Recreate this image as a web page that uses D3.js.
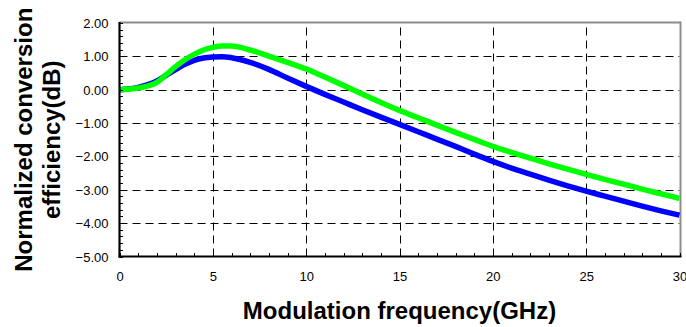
<!DOCTYPE html>
<html>
<head>
<meta charset="utf-8">
<script src="https://cdn.jsdelivr.net/npm/d3@7"></script>
<style>
html,body{margin:0;padding:0;background:#fff;}
svg{display:block;}
text{font-family:"Liberation Sans",Arial,sans-serif;fill:#000;}
</style>
</head>
<body>
<svg id="chart" width="686" height="327"></svg>
<script>
const freq = [0,1,2,2.5,3,3.5,4,4.5,5,5.5,6,7,8,9,10,11,12,13,14,15,16,17,18,19,20,21,22,23,24,25,26,27,28,29,30];
const blueValues = [0,0.07,0.26,0.43,0.60,0.76,0.88,0.95,0.98,0.99,0.96,0.82,0.61,0.35,0.10,-0.14,-0.37,-0.60,-0.82,-1.04,-1.26,-1.48,-1.70,-1.93,-2.15,-2.35,-2.53,-2.71,-2.88,-3.04,-3.19,-3.34,-3.49,-3.63,-3.76];
const greenValues = [0,0.05,0.22,0.45,0.69,0.90,1.06,1.19,1.27,1.31,1.31,1.19,1.01,0.82,0.62,0.38,0.13,-0.13,-0.38,-0.62,-0.84,-1.06,-1.28,-1.49,-1.70,-1.88,-2.05,-2.22,-2.38,-2.54,-2.69,-2.83,-2.98,-3.12,-3.26];
const xTicks = [0,5,10,15,20,25,30];
const yTicks = [2,1,0,-1,-2,-3,-4,-5];
const xTitle = "Modulation frequency(GHz)";
const yTitleLines = ["Normalized conversion","efficiency(dB)"];

const svg = d3.select("#chart");
const L = 119.5, R = 679.5, T = 23, B = 256.5;
const x = d3.scaleLinear().domain([0,30]).range([L,R]);
const y = d3.scaleLinear().domain([-5,2]).range([B,T]);

// grid
const g = svg.append("g");
g.selectAll("line.hg").data(yTicks.filter(v=>v>-5 && v<2)).join("line")
  .attr("x1",L).attr("x2",R).attr("y1",d=>Math.round(y(d))+0.5).attr("y2",d=>Math.round(y(d))+0.5)
  .attr("stroke","#000").attr("stroke-width",1).attr("stroke-dasharray","8,5");
g.selectAll("line.vg").data(xTicks.filter(v=>v>0 && v<30)).join("line")
  .attr("y1",B).attr("y2",T).attr("x1",d=>Math.round(x(d))+0.5).attr("x2",d=>Math.round(x(d))+0.5)
  .attr("stroke","#000").attr("stroke-width",1).attr("stroke-dasharray","8,5");

// top & right border (gray)
svg.append("line").attr("x1",L).attr("x2",R+1).attr("y1",T-0.5).attr("y2",T-0.5).attr("stroke","#8c8c8c").attr("stroke-width",2);
svg.append("line").attr("x1",R+1).attr("x2",R+1).attr("y1",T-1.5).attr("y2",B).attr("stroke","#8c8c8c").attr("stroke-width",2);

// lines
const line = d3.line().x(d=>x(d[0])).y(d=>y(d[1])).curve(d3.curveMonotoneX);
svg.append("path").datum(freq.map((f,i)=>[f,blueValues[i]])).attr("d",line)
  .attr("fill","none").attr("stroke","#0000ff").attr("stroke-width",5.5).attr("stroke-linejoin","round");
svg.append("path").datum(freq.map((f,i)=>[f,greenValues[i]])).attr("d",line)
  .attr("fill","none").attr("stroke","#00ff00").attr("stroke-width",5.5).attr("stroke-linejoin","round");

// y axis
const yMinor = d3.range(-5,2.0001,0.2);
const yAxis = d3.axisLeft(y).tickValues(yTicks).tickSize(0).tickPadding(10).tickFormat(d3.format(".2f"));
const ya = svg.append("g").attr("transform",`translate(${L},0)`).call(yAxis);
ya.select(".domain").remove();
ya.selectAll("text").attr("font-size",13).attr("font-family","Liberation Sans, Arial, sans-serif").attr("dy","0.35em").attr("x",-11);
svg.append("g").selectAll("line").data(yMinor).join("line")
  .attr("x1",L).attr("x2",L+3.5).attr("y1",d=>Math.round(y(d))+0.5).attr("y2",d=>Math.round(y(d))+0.5)
  .attr("stroke","#000").attr("stroke-width",1);
svg.append("line").attr("x1",L).attr("x2",L).attr("y1",T-1).attr("y2",B+1).attr("stroke","#000").attr("stroke-width",2.2);

// x axis
const xMinor = d3.range(0,30.001,1);
const xAxis = d3.axisBottom(x).tickValues(xTicks).tickSize(0).tickPadding(15).tickFormat(d3.format("d"));
const xa = svg.append("g").attr("transform",`translate(0,${B})`).call(xAxis);
xa.select(".domain").remove();
xa.selectAll("text").attr("font-size",13).attr("font-family","Liberation Sans, Arial, sans-serif");
svg.append("g").selectAll("line").data(xMinor).join("line")
  .attr("x1",d=>Math.round(x(d))+0.5).attr("x2",d=>Math.round(x(d))+0.5).attr("y1",B).attr("y2",B-3.5)
  .attr("stroke","#000").attr("stroke-width",1);
svg.append("line").attr("x1",L-1).attr("x2",R+2).attr("y1",B).attr("y2",B).attr("stroke","#000").attr("stroke-width",2.2);

// titles
svg.append("text").attr("x",(L+R)/2).attr("y",319).attr("text-anchor","middle")
  .attr("font-size",24).attr("font-weight","bold").text(xTitle);
const yt = svg.append("text").attr("transform",`translate(0,${(T+B)/2}) rotate(-90)`)
  .attr("text-anchor","middle").attr("font-size",24).attr("font-weight","bold");
yt.append("tspan").attr("x",0).attr("y",32).text(yTitleLines[0]);
yt.append("tspan").attr("x",0).attr("y",60).text(yTitleLines[1]);
</script>
</body>
</html>
